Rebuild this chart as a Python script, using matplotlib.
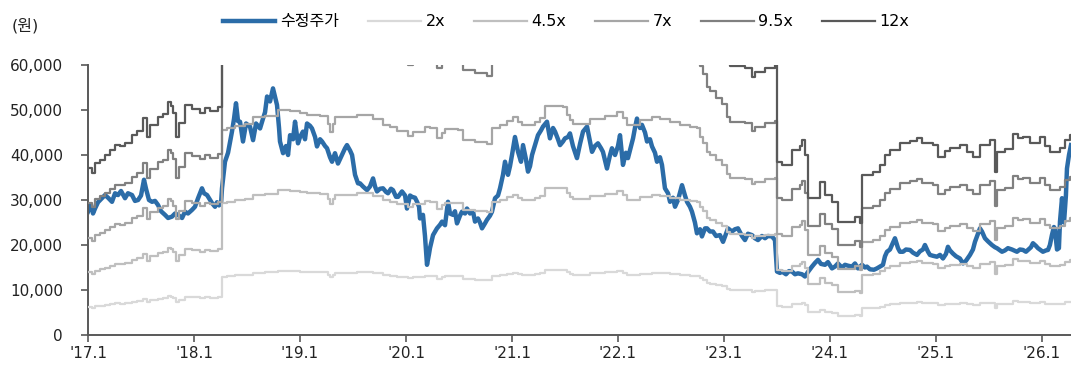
import numpy as np
import matplotlib.pyplot as plt
from matplotlib.ticker import FuncFormatter

plt.rcParams['font.family'] = ['DejaVu Sans', 'Noto Sans CJK KR']

# 수정주가 (시점: 연 단위 소수, 값: 천원)
price_t = [
    2017.000, 2017.028, 2017.047, 2017.066, 2017.094, 2017.123, 2017.160, 2017.189, 2017.226, 2017.255,
    2017.283, 2017.311, 2017.349, 2017.377, 2017.415, 2017.443, 2017.472, 2017.500, 2017.528, 2017.547,
    2017.575, 2017.604, 2017.632, 2017.660, 2017.689, 2017.726, 2017.755, 2017.792, 2017.821, 2017.849,
    2017.887, 2017.915, 2017.943, 2017.981, 2018.009, 2018.038, 2018.075, 2018.094, 2018.123, 2018.151,
    2018.170, 2018.198, 2018.217, 2018.236, 2018.255, 2018.264, 2018.292, 2018.321, 2018.358, 2018.377,
    2018.396, 2018.415, 2018.434, 2018.462, 2018.491, 2018.528, 2018.557, 2018.585, 2018.623, 2018.651,
    2018.670, 2018.689, 2018.717, 2018.745, 2018.764, 2018.783, 2018.802, 2018.811, 2018.840, 2018.868,
    2018.887, 2018.906, 2018.934, 2018.953, 2018.981, 2019.000, 2019.028, 2019.047, 2019.066, 2019.094,
    2019.113, 2019.142, 2019.160, 2019.189, 2019.208, 2019.236, 2019.255, 2019.283, 2019.302, 2019.330,
    2019.358, 2019.396, 2019.425, 2019.443, 2019.472, 2019.491, 2019.519, 2019.547, 2019.566, 2019.594,
    2019.632, 2019.660, 2019.689, 2019.708, 2019.726, 2019.755, 2019.783, 2019.811, 2019.830, 2019.858,
    2019.877, 2019.906, 2019.925, 2019.962, 2019.991, 2020.009, 2020.038, 2020.057, 2020.085, 2020.104,
    2020.123, 2020.132, 2020.160, 2020.179, 2020.198, 2020.217, 2020.226, 2020.255, 2020.292, 2020.321,
    2020.340, 2020.368, 2020.396, 2020.415, 2020.443, 2020.462, 2020.481, 2020.509, 2020.528, 2020.557,
    2020.575, 2020.604, 2020.632, 2020.651, 2020.679, 2020.698, 2020.717, 2020.745, 2020.764, 2020.792,
    2020.811, 2020.840, 2020.868, 2020.887, 2020.915, 2020.934, 2020.962, 2020.981, 2021.000, 2021.028,
    2021.057, 2021.085, 2021.104, 2021.132, 2021.151, 2021.170, 2021.189, 2021.217, 2021.245, 2021.274,
    2021.292, 2021.330, 2021.358, 2021.387, 2021.406, 2021.434, 2021.453, 2021.481, 2021.500, 2021.528,
    2021.547, 2021.575, 2021.613, 2021.642, 2021.670, 2021.708, 2021.736, 2021.755, 2021.783, 2021.811,
    2021.840, 2021.858, 2021.896, 2021.925, 2021.943, 2021.972, 2022.000, 2022.019, 2022.047, 2022.075,
    2022.094, 2022.123, 2022.142, 2022.160, 2022.179, 2022.208, 2022.226, 2022.255, 2022.274, 2022.302,
    2022.321, 2022.349, 2022.368, 2022.396, 2022.415, 2022.443, 2022.472, 2022.491, 2022.519, 2022.538,
    2022.566, 2022.604, 2022.632, 2022.651, 2022.679, 2022.698, 2022.726, 2022.745, 2022.774, 2022.792,
    2022.821, 2022.840, 2022.868, 2022.896, 2022.925, 2022.962, 2022.991, 2023.019, 2023.038, 2023.075,
    2023.104, 2023.132, 2023.170, 2023.198, 2023.226, 2023.264, 2023.292, 2023.321, 2023.358, 2023.387,
    2023.415, 2023.453, 2023.481, 2023.500, 2023.528, 2023.547, 2023.585, 2023.613, 2023.642, 2023.670,
    2023.698, 2023.736, 2023.764, 2023.792, 2023.830, 2023.858, 2023.887, 2023.915, 2023.953, 2023.981,
    2024.019, 2024.047, 2024.075, 2024.113, 2024.142, 2024.170, 2024.208, 2024.236, 2024.264, 2024.302,
    2024.330, 2024.349, 2024.377, 2024.415, 2024.443, 2024.472, 2024.500, 2024.519, 2024.538, 2024.566,
    2024.585, 2024.613, 2024.642, 2024.660, 2024.689, 2024.717, 2024.755, 2024.783, 2024.821, 2024.849,
    2024.877, 2024.896, 2024.925, 2024.943, 2024.972, 2025.009, 2025.038, 2025.066, 2025.094, 2025.113,
    2025.132, 2025.160, 2025.189, 2025.226, 2025.255, 2025.283, 2025.321, 2025.349, 2025.368, 2025.396,
    2025.415, 2025.434, 2025.462, 2025.491, 2025.528, 2025.557, 2025.575, 2025.604, 2025.623, 2025.651,
    2025.679, 2025.717, 2025.764, 2025.792, 2025.821, 2025.849, 2025.868, 2025.896, 2025.915, 2025.943,
    2025.962, 2025.991, 2026.009, 2026.038, 2026.057, 2026.075, 2026.094, 2026.113, 2026.123, 2026.142,
    2026.160, 2026.170, 2026.189, 2026.208, 2026.226, 2026.236, 2026.255, 2026.274,
]
price_k = [
    27.4, 29.0, 27.0, 28.1, 29.5, 30.2, 31.1, 30.5, 29.6, 31.5,
    31.1, 32.0, 30.4, 31.5, 31.1, 29.8, 30.0, 31.0, 34.5, 32.5,
    30.0, 29.6, 29.8, 28.9, 27.5, 26.7, 26.0, 26.3, 27.0, 26.7,
    26.0, 27.4, 27.0, 27.8, 28.5, 30.4, 32.6, 31.5, 31.1, 30.0,
    29.3, 28.5, 29.5, 28.8, 29.3, 32.6, 38.5, 40.5, 45.2, 48.0,
    51.5, 47.5, 47.4, 43.0, 47.0, 46.3, 43.3, 47.0, 45.9, 48.1,
    49.5, 53.0, 51.9, 54.8, 53.0, 51.1, 46.0, 43.0, 40.4, 42.0,
    40.0, 44.4, 43.5, 47.4, 42.6, 44.0, 45.2, 43.5, 47.0, 46.5,
    45.9, 44.0, 41.9, 43.5, 43.0, 42.0, 41.5, 39.5, 38.5, 40.4,
    38.1, 40.0, 41.5, 42.2, 41.0, 40.0, 35.6, 33.7, 33.7, 33.0,
    32.2, 33.0, 34.8, 33.0, 31.9, 32.5, 32.6, 31.8, 31.5, 32.5,
    32.2, 30.7, 30.7, 31.9, 31.0, 28.1, 31.0, 30.7, 30.5, 29.6,
    28.5, 25.9, 26.7, 22.0, 15.6, 18.0, 19.3, 22.2, 23.7, 24.5,
    25.2, 24.4, 29.6, 27.0, 26.7, 27.5, 24.8, 26.5, 27.4, 27.0,
    28.1, 27.0, 27.5, 25.2, 25.9, 25.0, 23.7, 24.8, 25.6, 26.5,
    27.4, 30.4, 31.0, 32.6, 35.6, 38.5, 35.6, 37.5, 40.0, 44.0,
    40.7, 38.5, 42.2, 39.0, 36.3, 37.5, 40.0, 42.2, 44.4, 45.5,
    46.3, 47.4, 43.7, 46.0, 45.2, 43.5, 42.2, 43.0, 43.7, 44.0,
    44.8, 42.0, 39.3, 42.5, 45.2, 46.3, 43.0, 40.7, 42.0, 42.6,
    41.5, 40.7, 37.0, 40.0, 41.5, 40.0, 42.0, 44.4, 37.8, 40.5,
    39.3, 42.0, 43.7, 46.0, 48.1, 46.0, 46.7, 45.0, 43.0, 43.5,
    41.9, 40.5, 38.5, 39.5, 37.8, 32.6, 31.5, 29.6, 30.5, 28.5,
    30.0, 33.3, 31.0, 29.6, 28.5, 27.4, 25.0, 22.6, 23.5, 21.9,
    23.7, 23.7, 23.0, 23.0, 22.0, 22.2, 20.7, 22.5, 23.7, 23.0,
    23.5, 23.7, 22.0, 21.1, 22.5, 22.2, 21.5, 21.1, 22.0, 21.5,
    22.0, 21.9, 21.1, 14.1, 13.8, 14.1, 13.5, 14.2, 14.1, 13.5,
    13.7, 13.5, 13.0, 14.0, 15.2, 16.0, 16.7, 15.8, 15.6, 16.2,
    14.8, 15.2, 15.9, 15.0, 15.6, 15.4, 15.2, 15.9, 14.8, 15.6,
    15.0, 15.2, 14.6, 14.5, 14.8, 15.2, 15.6, 17.5, 18.5, 19.0,
    20.0, 21.5, 19.3, 18.5, 18.5, 19.0, 18.9, 18.3, 17.8, 18.6,
    19.0, 20.0, 18.5, 17.8, 17.6, 17.4, 17.8, 17.0, 18.0, 19.6,
    18.8, 18.1, 17.5, 17.0, 15.9, 16.5, 17.8, 19.0, 20.7, 22.5,
    23.7, 23.0, 21.5, 20.8, 20.0, 19.5, 19.3, 18.8, 18.5, 18.8,
    19.3, 19.0, 18.5, 19.0, 18.9, 18.5, 18.9, 19.5, 20.4, 19.8,
    19.3, 18.8, 18.5, 18.8, 18.9, 20.0, 22.2, 24.0, 23.3, 19.0,
    19.3, 25.2, 30.4, 25.0, 31.0, 37.0, 40.0, 42.2,
]

# 밴드 기준 EPS (원)
eps_t = [
    2017.000, 2017.038, 2017.066, 2017.113, 2017.160, 2017.208, 2017.255, 2017.302, 2017.349, 2017.415,
    2017.462, 2017.519, 2017.557, 2017.585, 2017.660, 2017.708, 2017.755, 2017.783, 2017.802, 2017.830,
    2017.858, 2017.915, 2017.981, 2018.057, 2018.104, 2018.151, 2018.226, 2018.264, 2018.311, 2018.387,
    2018.481, 2018.557, 2018.670, 2018.792, 2018.906, 2019.000, 2019.066, 2019.189, 2019.264, 2019.283,
    2019.311, 2019.330, 2019.538, 2019.689, 2019.783, 2019.849, 2019.915, 2020.019, 2020.066, 2020.179,
    2020.226, 2020.292, 2020.340, 2020.368, 2020.491, 2020.538, 2020.651, 2020.764, 2020.811, 2020.887,
    2020.953, 2021.009, 2021.057, 2021.094, 2021.217, 2021.264, 2021.311, 2021.481, 2021.519, 2021.547,
    2021.575, 2021.736, 2021.877, 2021.991, 2022.047, 2022.085, 2022.208, 2022.321, 2022.396, 2022.491,
    2022.585, 2022.679, 2022.745, 2022.774, 2022.802, 2022.840, 2022.868, 2022.925, 2022.981, 2023.028,
    2023.057, 2023.198, 2023.264, 2023.292, 2023.387, 2023.481, 2023.500, 2023.547, 2023.642, 2023.717,
    2023.736, 2023.764, 2023.792, 2023.887, 2023.906, 2023.953, 2024.019, 2024.075, 2024.170, 2024.236,
    2024.283, 2024.302, 2024.406, 2024.472, 2024.519, 2024.566, 2024.660, 2024.755, 2024.821, 2024.868,
    2024.972, 2025.019, 2025.085, 2025.132, 2025.226, 2025.292, 2025.349, 2025.415, 2025.509, 2025.557,
    2025.575, 2025.651, 2025.726, 2025.774, 2025.821, 2025.887, 2025.981, 2026.028, 2026.075, 2026.170,
    2026.217, 2026.264, 2026.274,
]
eps = [
    3090, 3000, 3185, 3250, 3330, 3420, 3520, 3500, 3550, 3700,
    3780, 4020, 3670, 3890, 4040, 4100, 4320, 4250, 4110, 3670,
    3930, 4260, 4190, 4110, 4200, 4150, 4230, 6500, 6570, 6650,
    6700, 6930, 6960, 7140, 7100, 7050, 6990, 6950, 6700, 6460,
    6700, 6930, 6990, 6870, 6670, 6590, 6470, 6310, 6450, 6610,
    6560, 6240, 6400, 6530, 6510, 6190, 6140, 6060, 6560, 6670,
    6800, 6930, 6770, 6670, 6750, 6880, 7270, 7240, 7000, 6830,
    6710, 6870, 6950, 7090, 6900, 6670, 6830, 6930, 6850, 6770,
    6670, 6610, 6560, 6300, 6100, 5800, 5700, 5550, 5400, 5100,
    4990, 4950, 4780, 4870, 4950, 5000, 3200, 3150, 3420, 3500,
    3610, 3330, 2540, 2540, 2830, 2590, 2470, 2100, 2100, 2190,
    2070, 2960, 3025, 3150, 3330, 3425, 3550, 3600, 3640, 3550,
    3520, 3300, 3400, 3460, 3520, 3390, 3300, 3520, 3610, 3025,
    3390, 3450, 3730, 3650, 3670, 3550, 3670, 3500, 3390, 3460,
    3620, 3700, 3700,
]

per_multiples = [2, 4.5, 7, 9.5, 12]
band_labels = ['2x', '4.5x', '7x', '9.5x', '12x']
band_colors = ['#d9d9d9', '#bfbfbf', '#a6a6a6', '#808080', '#595959']

year_ticks = list(range(2017, 2027))
year_labels = ["'17.1", "'18.1", "'19.1", "'20.1", "'21.1",
               "'22.1", "'23.1", "'24.1", "'25.1", "'26.1"]

fig = plt.figure(figsize=(10.71, 3.66), dpi=100)
ax = fig.add_axes([0.0822, 0.0847, 0.9178, 0.7377])

ax.plot(price_t, np.array(price_k) * 1000, color='#2b6ca8', lw=3.2,
        label='수정주가', zorder=2)
eps_arr = np.array(eps)
for m, lab, c in zip(per_multiples, band_labels, band_colors):
    ax.plot(eps_t, m * eps_arr, color=c, lw=1.6, drawstyle='steps-post',
            label=lab, zorder=3)

ax.set_xlim(2017.0, 2026.274)
ax.set_ylim(0, 60000)
ax.set_yticks(range(0, 60001, 10000))
ax.yaxis.set_major_formatter(FuncFormatter(lambda v, p: f'{int(v):,}'))
ax.set_xticks(year_ticks)
ax.set_xticklabels(year_labels)

for s in ['top', 'right']:
    ax.spines[s].set_visible(False)
for s in ['left', 'bottom']:
    ax.spines[s].set_color('#595959')
    ax.spines[s].set_linewidth(1.4)
ax.tick_params(axis='both', direction='out', length=5, width=1.2,
               color='#595959', labelsize=11, labelcolor='#222222')
ax.tick_params(axis='y', pad=13)
ax.tick_params(axis='x', pad=3)

fig.legend(loc='center', bbox_to_anchor=(0.5285, 0.94), ncol=6, frameon=False,
           fontsize=11.5, handlelength=3.3, handletextpad=0.3, columnspacing=1.8)
fig.text(0.011, 0.93, '(원)', fontsize=11.5, va='center', color='#222222')

fig.savefig('out.png', dpi=100)
